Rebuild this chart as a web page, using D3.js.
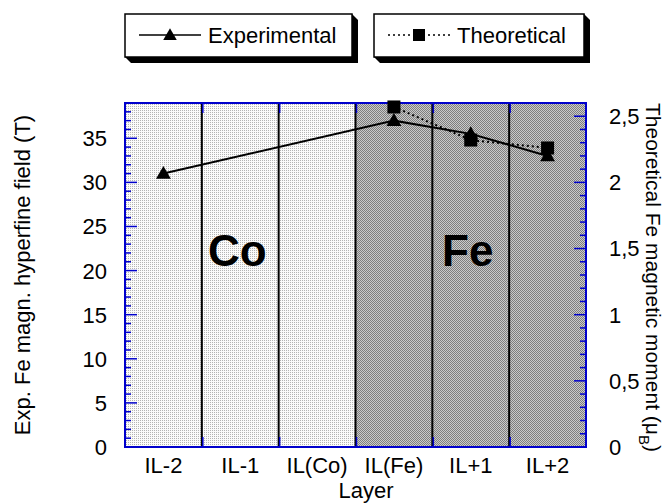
<!DOCTYPE html>
<html>
<head>
<meta charset="utf-8">
<script src="https://cdn.jsdelivr.net/npm/d3@7"></script>
<style>
  body { margin: 0; background: #fff; }
  svg text { font-family: "Liberation Sans", Arial, Helvetica, sans-serif; fill: #000; }
</style>
</head>
<body>
<div id="chart"></div>
<script>
// categories and values
var layers = ["IL-2", "IL-1", "IL(Co)", "IL(Fe)", "IL+1", "IL+2"];

var expLayers = ["IL-2", "IL(Fe)", "IL+1", "IL+2"];
var expValues = [31, 37, 35.5, 33];          // hyperfine field (T)

var theoLayers = ["IL(Fe)", "IL+1", "IL+2"];
var theoValues = [2.57, 2.32, 2.26];        // moment (muB)

var regionNames = ["Co", "Fe"];
var regionLayers = [["IL-2", "IL-1", "IL(Co)"], ["IL(Fe)", "IL+1", "IL+2"]];
var regionLabelAt = ["IL-1", "IL+1"];

var leftTicks = [0, 5, 10, 15, 20, 25, 30, 35];
var rightTicks = [0, 0.5, 1, 1.5, 2, 2.5];
var rightTickLabels = ["0", "0,5", "1", "1,5", "2", "2,5"];

var legendNames = ["Experimental", "Theoretical"];

var width = 668, height = 503;
var pad = { left: 125, right: 82, top: 103, bottom: 56 };
var blue = "#0000cc";
var fs = "22px";

var svg = d3.select("#chart").append("svg")
  .attr("width", width)
  .attr("height", height);

// fill patterns for the two regions
var defs = svg.append("defs");
var pLight = defs.append("pattern").attr("id", "pat-co")
  .attr("patternUnits", "userSpaceOnUse").attr("width", 2).attr("height", 2);
pLight.append("rect").attr("width", 2).attr("height", 2).attr("fill", "#fbfbfb");
pLight.append("rect").attr("width", 1).attr("height", 1).attr("fill", "#b4b4b4");

var pDark = defs.append("pattern").attr("id", "pat-fe")
  .attr("patternUnits", "userSpaceOnUse").attr("width", 2).attr("height", 2);
pDark.append("rect").attr("width", 2).attr("height", 2).attr("fill", "#cacaca");
pDark.append("rect").attr("width", 1).attr("height", 1).attr("fill", "#7e7e7e");
pDark.append("rect").attr("x", 1).attr("y", 1).attr("width", 1).attr("height", 1).attr("fill", "#7e7e7e");

var x = d3.scaleBand()
  .domain(layers)
  .range([pad.left, width - pad.right]);

var yL = d3.scaleLinear()
  .domain([0, 39])
  .range([height - pad.bottom, pad.top]);

var yR = d3.scaleLinear()
  .domain([0, 2.6])
  .range([height - pad.bottom, pad.top]);

var x0 = pad.left, x1 = width - pad.right;
var yTop = pad.top, yBot = height - pad.bottom;

// region backgrounds
regionLayers.forEach(function(ls, i){
  var a = x(ls[0]), b = x(ls[ls.length - 1]) + x.bandwidth();
  svg.append("rect")
    .attr("x", a).attr("y", yTop)
    .attr("width", b - a).attr("height", yBot - yTop)
    .attr("fill", i === 0 ? "url(#pat-co)" : "url(#pat-fe)");
});

// layer separators
layers.slice(1).forEach(function(l){
  svg.append("line")
    .attr("x1", x(l)).attr("x2", x(l))
    .attr("y1", yTop).attr("y2", yBot)
    .attr("stroke", "#000").attr("stroke-width", 2);
});

// small blue ticks at separators, top and bottom
layers.slice(1).forEach(function(l){
  [[yBot, yBot - 10], [yTop, yTop + 10]].forEach(function(s){
    svg.append("line")
      .attr("x1", x(l) + 1).attr("x2", x(l) + 1)
      .attr("y1", s[0]).attr("y2", s[1])
      .attr("stroke", blue).attr("stroke-width", 1.5);
  });
});

// region labels
regionNames.forEach(function(n, i){
  svg.append("text")
    .attr("x", x(regionLabelAt[i]) + x.bandwidth() / 2 - 3)
    .attr("y", 266)
    .attr("text-anchor", "middle")
    .style("font-size", "44px")
    .style("font-weight", "bold")
    .text(n);
});

// frame
svg.append("rect")
  .attr("x", x0).attr("y", yTop)
  .attr("width", x1 - x0).attr("height", yBot - yTop)
  .attr("fill", "none").attr("stroke", blue).attr("stroke-width", 2);

// left axis ticks (inward)
d3.range(1, 39).forEach(function(v){
  var len = v % 5 === 0 ? 12 : 6;
  svg.append("line")
    .attr("x1", x0).attr("x2", x0 + len)
    .attr("y1", yL(v)).attr("y2", yL(v))
    .attr("stroke", blue).attr("stroke-width", 1.5);
});
leftTicks.forEach(function(v){
  svg.append("text")
    .attr("x", 107).attr("y", yL(v)).attr("dy", "0.36em")
    .attr("text-anchor", "end")
    .style("font-size", fs)
    .text(v);
});

// right axis ticks (inward)
d3.range(1, 26).forEach(function(i){
  var v = i / 10;
  var len = i % 5 === 0 ? 12 : 6;
  svg.append("line")
    .attr("x1", x1).attr("x2", x1 - len)
    .attr("y1", yR(v)).attr("y2", yR(v))
    .attr("stroke", blue).attr("stroke-width", 1.5);
});
rightTicks.forEach(function(v, i){
  svg.append("text")
    .attr("x", 609).attr("y", yR(v)).attr("dy", "0.36em")
    .attr("text-anchor", "start")
    .style("font-size", fs)
    .text(rightTickLabels[i]);
});

// x tick labels
layers.forEach(function(l){
  svg.append("text")
    .attr("x", x(l) + x.bandwidth() / 2)
    .attr("y", 473)
    .attr("text-anchor", "middle")
    .style("font-size", fs)
    .text(l);
});

// axis titles
svg.append("text")
  .attr("x", 366).attr("y", 498)
  .attr("text-anchor", "middle")
  .style("font-size", fs)
  .text("Layer");

svg.append("text")
  .attr("transform", "translate(30,275) rotate(-90)")
  .attr("text-anchor", "middle")
  .style("font-size", fs)
  .text("Exp. Fe magn. hyperfine field (T)");

var rt = svg.append("text")
  .attr("transform", "translate(646,103) rotate(90)")
  .attr("text-anchor", "start")
  .style("font-size", "21px");
rt.append("tspan").text("Theoretical Fe magnetic moment (\u03bc");
rt.append("tspan").attr("dy", 7).style("font-size", "15px").text("B");
rt.append("tspan").attr("dy", -7).text(")");

// series
var expData = expLayers.map(function(l, i){ return { layer: l, value: expValues[i] }; });
var theoData = theoLayers.map(function(l, i){ return { layer: l, value: theoValues[i] }; });
var cx = function(d){ return x(d.layer) + x.bandwidth() / 2; };

var lineExp = d3.line().x(cx).y(function(d){ return yL(d.value); });
var lineTheo = d3.line().x(cx).y(function(d){ return yR(d.value); });

svg.append("path")
  .attr("d", lineTheo(theoData))
  .attr("fill", "none").attr("stroke", "#000")
  .attr("stroke-width", 2).attr("stroke-dasharray", "2,3");

svg.append("path")
  .attr("d", lineExp(expData))
  .attr("fill", "none").attr("stroke", "#000").attr("stroke-width", 2);

var tri = d3.symbol().type(d3.symbolTriangle).size(95);
svg.selectAll(".exp-pt")
  .data(expData)
  .enter()
  .append("path")
  .attr("class", "exp-pt")
  .attr("d", tri)
  .attr("transform", function(d){ return "translate(" + cx(d) + "," + (yL(d.value) + 1) + ")"; })
  .attr("fill", "#000");

svg.selectAll(".theo-pt")
  .data(theoData)
  .enter()
  .append("rect")
  .attr("class", "theo-pt")
  .attr("x", function(d){ return cx(d) - 6.5; })
  .attr("y", function(d){ return yR(d.value) - 6.5; })
  .attr("width", 13).attr("height", 13)
  .attr("fill", "#000");

// legend boxes
var boxes = [
  { x0: 125, x1: 352, dashed: false },
  { x0: 374, x1: 584, dashed: true }
];
var by0 = 14, by1 = 57, sh = 6;
boxes.forEach(function(b, i){
  svg.append("path")
    .attr("d", "M" + b.x1 + "," + by0 + "L" + (b.x1 + sh) + "," + (by0 + sh) +
      "L" + (b.x1 + sh) + "," + (by1 + sh) + "L" + (b.x0 + sh) + "," + (by1 + sh) +
      "L" + b.x0 + "," + by1 + "Z")
    .attr("fill", "#000");
  svg.append("rect")
    .attr("x", b.x0).attr("y", by0)
    .attr("width", b.x1 - b.x0).attr("height", by1 - by0)
    .attr("fill", "#fff").attr("stroke", "#000").attr("stroke-width", 1.5);
  var ly = 35;
  var lx0 = b.x0 + 14, lx1 = b.x0 + 76, mid = (lx0 + lx1) / 2;
  svg.append("line")
    .attr("x1", lx0).attr("x2", lx1).attr("y1", ly).attr("y2", ly)
    .attr("stroke", "#000").attr("stroke-width", 1.5)
    .attr("stroke-dasharray", b.dashed ? "2,3" : null);
  if(b.dashed){
    svg.append("rect")
      .attr("x", mid - 6).attr("y", ly - 6).attr("width", 12).attr("height", 12)
      .attr("fill", "#000");
  } else {
    svg.append("path")
      .attr("d", d3.symbol().type(d3.symbolTriangle).size(80))
      .attr("transform", "translate(" + mid + "," + (ly + 1) + ")")
      .attr("fill", "#000");
  }
  svg.append("text")
    .attr("x", b.x0 + 83).attr("y", 43)
    .style("font-size", fs)
    .text(legendNames[i]);
});
</script>
</body>
</html>
